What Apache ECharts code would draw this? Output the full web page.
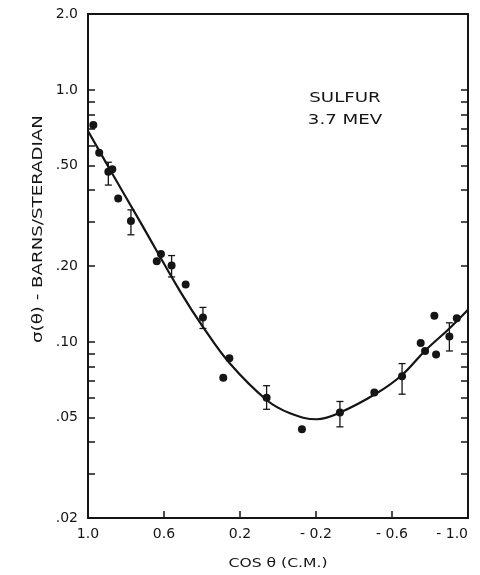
<!DOCTYPE html>
<html>
<head>
<meta charset="utf-8">
<title>Sulfur 3.7 MeV</title>
<script src="https://cdn.jsdelivr.net/npm/echarts@6/dist/echarts.min.js"></script>
<style>
html, body { margin: 0; padding: 0; background: #fff; }
#chart { width: 480px; height: 575px; }
</style>
</head>
<body>
<div id="chart"></div>
<script>
// measured points (cos theta c.m., sigma in barns/steradian)
var cosTheta = [0.972, 0.941, 0.893, 0.872, 0.841, 0.774, 0.638, 0.616, 0.560, 0.486,
                0.395, 0.288, 0.256, 0.060, -0.126, -0.326, -0.507, -0.653, -0.751, -0.774,
                -0.823, -0.832, -0.902, -0.941];
var sigma = [0.725, 0.563, 0.473, 0.484, 0.371, 0.302, 0.209, 0.223, 0.201, 0.169,
             0.125, 0.072, 0.086, 0.060, 0.045, 0.0525, 0.063, 0.073, 0.099, 0.092,
             0.127, 0.089, 0.105, 0.124];

// error bars
var errCos = [0.893, 0.774, 0.560, 0.395, 0.060, -0.326, -0.653, -0.902];
var errLow = [0.419, 0.266, 0.181, 0.113, 0.054, 0.046, 0.062, 0.092];
var errHigh = [0.516, 0.334, 0.220, 0.137, 0.067, 0.058, 0.082, 0.119];

// fitted curve
var fitCos = [1.0, 0.884, 0.726, 0.516, 0.396, 0.253, 0.060, -0.063, -0.204,
              -0.326, -0.519, -0.653, -0.774, -0.902, -1.0];
var fitSigma = [0.687, 0.482, 0.300, 0.159, 0.115, 0.082, 0.0588, 0.0521, 0.0493,
                0.0524, 0.0625, 0.0739, 0.0922, 0.113, 0.134];

// axis ticks
var xTicks = [1.0, 0.6, 0.2, -0.2, -0.6, -1.0];
var xTickLabels = ['1.0', '0.6', '0.2', '- 0.2', '- 0.6', '- 1.0'];
var yTicks = [2.0, 1.0, 0.5, 0.2, 0.1, 0.05, 0.02];
var yTickLabels = ['2.0', '1.0', '.50', '.20', '.10', '.05', '.02'];
var yMinorTicks = [1.0, 0.9, 0.8, 0.7, 0.6, 0.5, 0.4, 0.3, 0.2,
                   0.1, 0.09, 0.08, 0.07, 0.06, 0.05, 0.04, 0.03, 0.02];

var lg = function (v) { return Math.log(v) / Math.LN10; };
var font = 'DejaVu Sans';
var ink = '#151515';

var myChart = echarts.init(document.getElementById('chart'));

var yLabelFmt = function (value) {
	for (var i = 0; i < yTicks.length; i++) {
		if (Math.abs(lg(yTicks[i]) - value) < 1e-6) return yTickLabels[i];
	}
	return '';
};
var xLabelFmt = function (value) {
	for (var i = 0; i < xTicks.length; i++) {
		if (Math.abs(xTicks[i] - value) < 1e-6) return xTickLabels[i];
	}
	return '';
};

var option = {
	animation: false,
	backgroundColor: '#fff',
	grid: { left: 88, right: 12, top: 14, bottom: 57, outerBoundsMode: 'none', containLabel: false },
	xAxis: [
		{
			type: 'value', min: -1, max: 1, inverse: true,
			position: 'bottom',
			axisLine: { onZero: false, lineStyle: { color: ink, width: 2 } },
			axisTick: { inside: true, length: 7, lineStyle: { color: ink, width: 1.5 },
				customValues: [0.6, 0.2, -0.2, -0.6] },
			axisLabel: { customValues: xTicks, formatter: xLabelFmt, margin: 9,
				alignMaxLabel: 'right',
				fontFamily: font, fontSize: 14, color: ink },
			splitLine: { show: false }
		},
		{
			type: 'value', min: -1, max: 1, inverse: true,
			position: 'top',
			axisLine: { show: true, onZero: false, lineStyle: { color: ink, width: 2 } },
			axisTick: { show: false },
			axisLabel: { show: false },
			splitLine: { show: false }
		}
	],
	yAxis: [
		{
			type: 'value', min: lg(0.02), max: lg(2),
			position: 'left',
			axisLine: { show: true, onZero: false, lineStyle: { color: ink, width: 2 } },
			axisTick: { show: true, inside: true, length: 7, lineStyle: { color: ink, width: 1.5 },
				customValues: yMinorTicks.map(lg) },
			axisLabel: { customValues: yTicks.map(lg), formatter: yLabelFmt, margin: 10,
				fontFamily: font, fontSize: 14, color: ink },
			splitLine: { show: false }
		},
		{
			type: 'value', min: lg(0.02), max: lg(2),
			position: 'right',
			axisLine: { show: true, onZero: false, lineStyle: { color: ink, width: 2 } },
			axisTick: { show: true, inside: true, length: 7, lineStyle: { color: ink, width: 1.5 },
				customValues: yMinorTicks.map(lg) },
			axisLabel: { show: false },
			splitLine: { show: false }
		}
	],
	graphic: [
		{
			type: 'text', x: 38, y: 229, rotation: Math.PI / 2, scaleX: 1.3,
			style: { text: 'σ(θ) - BARNS/STERADIAN', fontFamily: font, fontSize: 14,
				fill: ink, align: 'center', verticalAlign: 'middle' }
		},
		{
			type: 'text', x: 345, y: 98, scaleX: 1.3,
			style: { text: 'SULFUR', fontFamily: font, fontSize: 14, fill: ink,
				align: 'center', verticalAlign: 'middle' }
		},
		{
			type: 'text', x: 345, y: 120, scaleX: 1.3,
			style: { text: '3.7 MEV', fontFamily: font, fontSize: 14, fill: ink,
				align: 'center', verticalAlign: 'middle' }
		},
		{
			type: 'text', x: 278, y: 564, scaleX: 1.2,
			style: { text: 'COS θ (C.M.)', fontFamily: font, fontSize: 13, fill: ink,
				align: 'center', verticalAlign: 'middle' }
		}
	],
	series: [
		{
			name: 'fit',
			type: 'line',
			smooth: 0.4,
			symbol: 'none',
			lineStyle: { color: ink, width: 2.2 },
			data: fitCos.map(function (c, i) { return [c, lg(fitSigma[i])]; }),
			z: 2
		},
		{
			name: 'errors',
			type: 'custom',
			data: errCos.map(function (c, i) { return [c, lg(errLow[i]), lg(errHigh[i])]; }),
			renderItem: function (params, api) {
				var lo = api.coord([api.value(0), api.value(1)]);
				var hi = api.coord([api.value(0), api.value(2)]);
				var w = 3.5;
				var st = { stroke: ink, lineWidth: 1.3 };
				return {
					type: 'group',
					children: [
						{ type: 'line', shape: { x1: lo[0], y1: lo[1], x2: hi[0], y2: hi[1] }, style: st },
						{ type: 'line', shape: { x1: lo[0] - w, y1: lo[1], x2: lo[0] + w, y2: lo[1] }, style: st },
						{ type: 'line', shape: { x1: hi[0] - w, y1: hi[1], x2: hi[0] + w, y2: hi[1] }, style: st }
					]
				};
			},
			z: 3
		},
		{
			name: 'data',
			type: 'scatter',
			symbol: 'circle',
			symbolSize: 8,
			itemStyle: { color: ink, opacity: 1 },
			data: cosTheta.map(function (c, i) { return [c, lg(sigma[i])]; }),
			z: 4
		}
	]
};
myChart.setOption(option);
</script>
</body>
</html>
